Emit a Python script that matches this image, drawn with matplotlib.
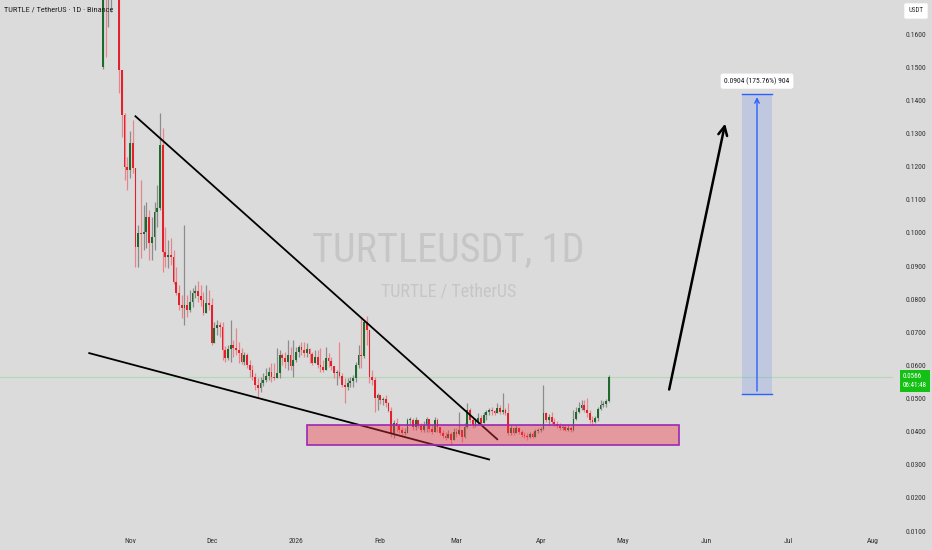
import numpy as np
import matplotlib
matplotlib.use("Agg")
import matplotlib.pyplot as plt
from matplotlib import font_manager
from matplotlib.patches import Rectangle
from matplotlib.transforms import blended_transform_factory

# daily candles TURTLE/USDT, first candle 2025-10-22
start_day = np.datetime64("2025-10-22")
first_open = 0.150
closes = [
    0.185, 0.175, 0.180, 0.190, 0.200, 0.185, 0.1491, 0.1356, 0.1199, 0.1190,
    0.1271, 0.1196, 0.0957, 0.0999, 0.0996, 0.1002, 0.1048, 0.0969, 0.0987, 0.1063,
    0.1075, 0.1265, 0.0942, 0.0927, 0.0933, 0.0927, 0.0851, 0.0818, 0.0782, 0.0773,
    0.0782, 0.0767, 0.0791, 0.0818, 0.0824, 0.0809, 0.0797, 0.0758, 0.0788, 0.0782,
    0.0667, 0.0713, 0.0722, 0.0716, 0.0646, 0.0622, 0.0649, 0.0661, 0.0652, 0.0646,
    0.0637, 0.0610, 0.0631, 0.0601, 0.0586, 0.0565, 0.0541, 0.0532, 0.0547, 0.0556,
    0.0568, 0.0580, 0.0565, 0.0562, 0.0577, 0.0631, 0.0622, 0.0610, 0.0631, 0.0598,
    0.0616, 0.0640, 0.0655, 0.0646, 0.0637, 0.0649, 0.0634, 0.0607, 0.0625, 0.0601,
    0.0595, 0.0586, 0.0622, 0.0613, 0.0598, 0.0577, 0.0580, 0.0568, 0.0541, 0.0535,
    0.0547, 0.0553, 0.0562, 0.0601, 0.0631, 0.0628, 0.0731, 0.0707, 0.0565, 0.0556,
    0.0501, 0.0510, 0.0495, 0.0498, 0.0486, 0.0462, 0.0396, 0.0426, 0.0417, 0.0405,
    0.0396, 0.0396, 0.0435, 0.0435, 0.0414, 0.0435, 0.0417, 0.0405, 0.0420, 0.0438,
    0.0408, 0.0399, 0.0435, 0.0414, 0.0396, 0.0387, 0.0381, 0.0393, 0.0375, 0.0399,
    0.0393, 0.0405, 0.0384, 0.0414, 0.0465, 0.0435, 0.0420, 0.0432, 0.0441, 0.0426,
    0.0450, 0.0459, 0.0465, 0.0462, 0.0456, 0.0471, 0.0459, 0.0465, 0.0456, 0.0396,
    0.0411, 0.0396, 0.0411, 0.0399, 0.0390, 0.0387, 0.0384, 0.0393, 0.0384, 0.0402,
    0.0405, 0.0408, 0.0456, 0.0435, 0.0444, 0.0429, 0.0423, 0.0417, 0.0411, 0.0414,
    0.0405, 0.0411, 0.0405, 0.0438, 0.0459, 0.0471, 0.0480, 0.0465, 0.0456, 0.0435,
    0.0429, 0.0441, 0.0468, 0.0480, 0.0483, 0.0492, 0.0566,
]
highs = [
    0.200, 0.195, 0.190, 0.200, 0.215, 0.205, 0.190, 0.1491, 0.1362, 0.1229,
    0.1307, 0.1340, 0.1196, 0.1024, 0.1159, 0.1084, 0.1093, 0.1069, 0.1048, 0.1093,
    0.1144, 0.1362, 0.1316, 0.1018, 0.0978, 0.0984, 0.0948, 0.0897, 0.0842, 0.0812,
    0.1024, 0.0812, 0.0827, 0.0833, 0.0842, 0.0855, 0.0842, 0.0821, 0.0842, 0.0827,
    0.0803, 0.0731, 0.0737, 0.0731, 0.0731, 0.0658, 0.0661, 0.0737, 0.0676, 0.0713,
    0.0670, 0.0652, 0.0640, 0.0637, 0.0616, 0.0601, 0.0577, 0.0562, 0.0565, 0.0577,
    0.0592, 0.0595, 0.0607, 0.0607, 0.0652, 0.0646, 0.0637, 0.0640, 0.0676, 0.0655,
    0.0676, 0.0655, 0.0661, 0.0670, 0.0670, 0.0667, 0.0652, 0.0640, 0.0646, 0.0646,
    0.0652, 0.0616, 0.0655, 0.0637, 0.0625, 0.0586, 0.0586, 0.0670, 0.0577, 0.0562,
    0.0562, 0.0565, 0.0571, 0.0610, 0.0661, 0.0745, 0.0737, 0.0749, 0.0692, 0.0586,
    0.0565, 0.0517, 0.0510, 0.0504, 0.0510, 0.0489, 0.0474, 0.0435, 0.0441, 0.0423,
    0.0414, 0.0411, 0.0441, 0.0444, 0.0441, 0.0444, 0.0435, 0.0426, 0.0432, 0.0444,
    0.0435, 0.0420, 0.0444, 0.0441, 0.0414, 0.0405, 0.0399, 0.0405, 0.0399, 0.0411,
    0.0411, 0.0459, 0.0405, 0.0426, 0.0486, 0.0471, 0.0441, 0.0441, 0.0456, 0.0450,
    0.0459, 0.0465, 0.0471, 0.0474, 0.0465, 0.0486, 0.0480, 0.0517, 0.0471, 0.0486,
    0.0420, 0.0414, 0.0420, 0.0414, 0.0405, 0.0399, 0.0396, 0.0399, 0.0399, 0.0408,
    0.0411, 0.0414, 0.0541, 0.0459, 0.0453, 0.0459, 0.0441, 0.0432, 0.0426, 0.0423,
    0.0420, 0.0420, 0.0417, 0.0465, 0.0474, 0.0489, 0.0495, 0.0495, 0.0501, 0.0465,
    0.0447, 0.0447, 0.0474, 0.0495, 0.0492, 0.0498, 0.0571,
]
lows = [
    0.1495, 0.1531, 0.1620, 0.1666, 0.1750, 0.1720, 0.1422, 0.1289, 0.1159, 0.1129,
    0.1165, 0.1180, 0.0897, 0.0897, 0.0924, 0.0948, 0.0954, 0.0918, 0.0918, 0.0948,
    0.1018, 0.1069, 0.0882, 0.0897, 0.0894, 0.0903, 0.0845, 0.0812, 0.0767, 0.0743,
    0.0722, 0.0746, 0.0761, 0.0776, 0.0803, 0.0791, 0.0779, 0.0752, 0.0758, 0.0767,
    0.0661, 0.0685, 0.0692, 0.0685, 0.0616, 0.0610, 0.0616, 0.0610, 0.0625, 0.0631,
    0.0607, 0.0604, 0.0601, 0.0592, 0.0565, 0.0556, 0.0526, 0.0504, 0.0520, 0.0538,
    0.0550, 0.0556, 0.0550, 0.0556, 0.0562, 0.0562, 0.0601, 0.0592, 0.0586, 0.0586,
    0.0565, 0.0610, 0.0625, 0.0631, 0.0625, 0.0625, 0.0607, 0.0601, 0.0610, 0.0592,
    0.0580, 0.0580, 0.0586, 0.0595, 0.0586, 0.0562, 0.0541, 0.0562, 0.0535, 0.0486,
    0.0526, 0.0535, 0.0535, 0.0550, 0.0592, 0.0592, 0.0622, 0.0661, 0.0547, 0.0541,
    0.0459, 0.0465, 0.0483, 0.0480, 0.0474, 0.0459, 0.0384, 0.0381, 0.0399, 0.0396,
    0.0390, 0.0390, 0.0399, 0.0420, 0.0405, 0.0405, 0.0411, 0.0399, 0.0399, 0.0399,
    0.0399, 0.0393, 0.0399, 0.0399, 0.0390, 0.0381, 0.0375, 0.0381, 0.0360, 0.0375,
    0.0384, 0.0390, 0.0369, 0.0381, 0.0411, 0.0426, 0.0411, 0.0414, 0.0420, 0.0420,
    0.0429, 0.0435, 0.0450, 0.0450, 0.0450, 0.0459, 0.0453, 0.0453, 0.0450, 0.0390,
    0.0390, 0.0390, 0.0402, 0.0393, 0.0384, 0.0381, 0.0375, 0.0381, 0.0381, 0.0387,
    0.0396, 0.0399, 0.0405, 0.0429, 0.0420, 0.0423, 0.0417, 0.0411, 0.0405, 0.0405,
    0.0402, 0.0402, 0.0399, 0.0402, 0.0435, 0.0456, 0.0465, 0.0459, 0.0444, 0.0426,
    0.0420, 0.0426, 0.0432, 0.0465, 0.0474, 0.0474, 0.0489,
]

price_ticks = [0.01, 0.02, 0.03, 0.04, 0.05, 0.06, 0.07, 0.08, 0.09, 0.10,
               0.11, 0.12, 0.13, 0.14, 0.15, 0.16]
month_starts = ["2025-11-01", "2025-12-01", "2026-01-01", "2026-02-01", "2026-03-01",
                "2026-04-01", "2026-05-01", "2026-06-01", "2026-07-01", "2026-08-01"]
month_labels = ["Nov", "Dec", "2026", "Feb", "Mar", "Apr", "May", "Jun", "Jul", "Aug"]

last_price = 0.0566
countdown = "06:41:48"

# drawings (date, price)
upper_line = (["2025-11-03", "2026-03-16"], [0.1352, 0.0377])
lower_line = (["2025-10-17", "2026-03-13"], [0.0637, 0.0316])
zone_dates = ("2026-01-05", "2026-05-22")
zone_prices = (0.0359, 0.0419)
arrow_from = ("2026-05-18", 0.0519)
arrow_to = ("2026-06-08", 0.1338)
target_dates = ("2026-06-14", "2026-06-25")
target_prices = (0.0514, 0.1418)
target_text = "0.0904 (175.76%) 904"

BG = "#dbdbdb"
UP = "#1d6b2b"
DOWN = "#e3202c"
UP_WICK = "#8c8c8c"
DOWN_WICK = "#e5868c"

names = {f.name for f in font_manager.fontManager.ttflist}
narrow = None
for cand in ["Liberation Sans Narrow", "Roboto Condensed", "Open Sans Condensed"]:
    if cand in names:
        narrow = cand
        break
stretch = "normal"
if narrow is None:
    narrow = "DejaVu Sans"
    if any(f.name == "DejaVu Sans" and f.stretch == "condensed" for f in font_manager.fontManager.ttflist):
        stretch = "condensed"


def day_of(d):
    return float((np.datetime64(d) - np.datetime64("2025-11-01")) / np.timedelta64(1, "D"))


closes = np.array(closes)
highs = np.array(highs)
lows = np.array(lows)
opens = np.concatenate([[first_open], closes[:-1]])
x = np.arange(len(closes)) + day_of(start_day)
highs = np.maximum(highs, np.maximum(opens, closes))
lows = np.minimum(lows, np.minimum(opens, closes))
up = closes >= opens

fig = plt.figure(figsize=(9.32, 5.5), dpi=100, facecolor=BG)
ax = fig.add_axes([0, 18 / 550, 893 / 932, 532 / 550])
ax.set_facecolor(BG)
ax.set_xlim(-47.8, 280.5)
ax.set_ylim(0.0097, 0.1703)
for s in ax.spines.values():
    s.set_visible(False)

# watermark
ax.text(0.502, 0.530, "TURTLEUSDT, 1D", transform=ax.transAxes, ha="center", va="center",
        fontsize=29, color="#c6c6c6", family=narrow, fontstretch=stretch, zorder=0)
ax.text(0.502, 0.453, "TURTLE / TetherUS", transform=ax.transAxes, ha="center", va="center",
        fontsize=13, color="#c6c6c6", family=narrow, fontstretch=stretch, zorder=0)

# last price line
ax.axhline(last_price, color="#b3d9b3", lw=0.8, zorder=1)

# candles
ax.vlines(x[up], lows[up], highs[up], color=UP_WICK, lw=0.9, zorder=2)
ax.vlines(x[~up], lows[~up], highs[~up], color=DOWN_WICK, lw=0.9, zorder=2)
body = np.maximum(np.abs(closes - opens), 0.00025)
ax.bar(x[up], body[up], bottom=np.minimum(opens, closes)[up], width=0.65, color=UP, zorder=3)
ax.bar(x[~up], body[~up], bottom=np.minimum(opens, closes)[~up], width=0.65, color=DOWN, zorder=3)

# trend lines
ax.plot([day_of(d) for d in upper_line[0]], upper_line[1], color="black", lw=1.3, zorder=4)
ax.plot([day_of(d) for d in lower_line[0]], lower_line[1], color="black", lw=1.3, zorder=4)

# demand zone
z0, z1 = day_of(zone_dates[0]), day_of(zone_dates[1])
ax.add_patch(Rectangle((z0, zone_prices[0]), z1 - z0, zone_prices[1] - zone_prices[0],
                       facecolor=(242 / 255, 54 / 255, 69 / 255, 0.4), edgecolor="#9c27b0",
                       lw=1.2, zorder=5))

# arrow
ax.annotate("", xy=(day_of(arrow_to[0]), arrow_to[1]), xytext=(day_of(arrow_from[0]), arrow_from[1]),
            arrowprops=dict(arrowstyle="->", lw=1.8, color="black", mutation_scale=16), zorder=5)

# target measure
t0, t1 = day_of(target_dates[0]), day_of(target_dates[1])
tm = (t0 + t1) / 2
ax.add_patch(Rectangle((t0, target_prices[0]), t1 - t0, target_prices[1] - target_prices[0],
                       facecolor=(41 / 255, 98 / 255, 1, 0.15), edgecolor="none", zorder=5))
ax.plot([t0, t1], [target_prices[1]] * 2, color="#2962ff", lw=1, zorder=6)
ax.plot([t0, t1], [target_prices[0]] * 2, color="#2962ff", lw=1, zorder=6)
ax.annotate("", xy=(tm, target_prices[1]), xytext=(tm, target_prices[0]),
            arrowprops=dict(arrowstyle="->", lw=1, color="#2962ff", mutation_scale=8), zorder=6)
ax.text(tm, 0.1458, target_text, ha="center", va="center", fontsize=5.4, color="#131722",
        family=narrow, fontstretch=stretch, zorder=7,
        bbox=dict(boxstyle="round,pad=0.5,rounding_size=0.3", fc="white", ec="none"))

# axes ticks
ax.yaxis.tick_right()
ax.set_yticks(price_ticks)
ax.set_yticklabels([f"{p:.4f}" for p in price_ticks])
ax.set_xticks([day_of(d) for d in month_starts])
ax.set_xticklabels(month_labels)
ax.tick_params(axis="y", length=0, pad=9, labelsize=5.5, labelcolor="#333333")
ax.tick_params(axis="x", length=0, pad=4, labelsize=5.5, labelcolor="#333333")
for lab in ax.get_xticklabels() + ax.get_yticklabels():
    lab.set_family(narrow)
    lab.set_stretch(stretch)

# last price label on the scale, first line sits on the price
tr = blended_transform_factory(ax.transAxes, ax.transData)
ax.annotate(f"{last_price:.4f}\n{countdown}", xy=(1.011, last_price), xycoords=tr,
            xytext=(0, -3.4), textcoords="offset points", ha="left", va="center",
            fontsize=5, color="white", family=narrow, fontstretch=stretch, linespacing=1.45,
            annotation_clip=False, zorder=8,
            bbox=dict(boxstyle="square,pad=0.4", fc="#14c014", ec="none"))

fig.text(916 / 932, 1 - 11 / 550, "USDT", ha="center", va="center", fontsize=5, color="#333333",
         family=narrow, fontstretch=stretch,
         bbox=dict(boxstyle="round,pad=0.6,rounding_size=0.2", fc="white", ec="none"))
fig.text(4 / 932, 1 - 10 / 550, "TURTLE / TetherUS · 1D · Binance", ha="left", va="center",
         fontsize=6, color="#222222", family=narrow, fontstretch=stretch)

fig.savefig("out.png", dpi=100, facecolor=BG)
